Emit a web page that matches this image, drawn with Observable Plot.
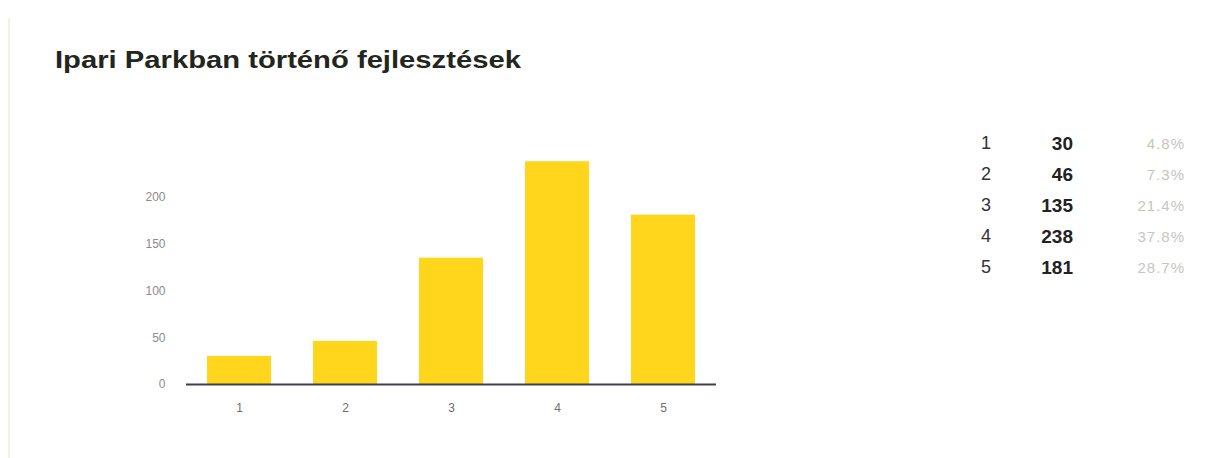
<!DOCTYPE html>
<html>
<head>
<meta charset="utf-8">
<script src="https://cdn.jsdelivr.net/npm/d3@7"></script>
<script src="https://cdn.jsdelivr.net/npm/@observablehq/plot@0.6"></script>
<style>
  html, body { margin: 0; padding: 0; background: #fff; }
  #wrap { position: relative; width: 1211px; height: 458px; overflow: hidden; font-family: "Liberation Sans", Arial, sans-serif; }
  #border { position: absolute; left: 8px; top: 18px; width: 2px; height: 440px; background: #f1f1e6; }
  #title { position: absolute; left: 55px; top: 47px; font-size: 23px; font-weight: bold; color: #23261d; transform: scaleX(1.27); transform-origin: left top; white-space: nowrap; }
  #chart { position: absolute; left: 0; top: 0; }
  #table { position: absolute; left: 975px; top: 128px; border-collapse: collapse; }
  #table td { padding: 0; height: 31px; }
  #table td.k { width: 30px; color: #333; text-align: left; padding-left: 6px; font-size: 18px; }
  #table td.v { width: 62px; text-align: right; font-weight: bold; color: #222; font-size: 19px; }
  #table td.p { width: 112px; text-align: right; color: #c6c6be; font-size: 15px; letter-spacing: 1px; }
</style>
</head>
<body>
<div id="wrap">
  <div id="border"></div>
  <div id="title"></div>
  <div id="chart"></div>
  <table id="table"></table>
</div>
<script>
const title = "Ipari Parkban történő fejlesztések";
const categories = ["1", "2", "3", "4", "5"];
const values = [30, 46, 135, 238, 181];
const percentLabels = ["4.8%", "7.3%", "21.4%", "37.8%", "28.7%"];
const yTicks = [0, 50, 100, 150, 200];

document.getElementById("title").textContent = title;

const data = categories.map((c, i) => ({cat: c, value: values[i]}));

const chart = Plot.plot({
  width: 1211,
  height: 458,
  marginLeft: 186,
  marginRight: 495,
  marginTop: 150,
  marginBottom: 74,
  style: {fontFamily: "'Liberation Sans', Arial, sans-serif", fontSize: "12px", background: "transparent"},
  x: {domain: categories, paddingInner: 0.4, paddingOuter: 0.2, label: null},
  y: {domain: [0, 250], label: null},
  marks: [
    Plot.barY(data, {x: "cat", y: "value", fill: "#FFD61C"}),
    Plot.axisY({ticks: yTicks, tickSize: 0, tickPadding: 21, color: "#8c8c8c", label: null}),
    Plot.axisX({tickSize: 0, tickPadding: 19, color: "#6e6e6e", label: null}),
    Plot.ruleY([0], {stroke: "#3b4050", strokeWidth: 2})
  ]
});
document.getElementById("chart").appendChild(chart);

const table = document.getElementById("table");
categories.forEach((c, i) => {
  const tr = document.createElement("tr");
  const a = document.createElement("td"); a.className = "k"; a.textContent = c;
  const b = document.createElement("td"); b.className = "v"; b.textContent = values[i];
  const p = document.createElement("td"); p.className = "p"; p.textContent = percentLabels[i];
  tr.append(a, b, p);
  table.appendChild(tr);
});
</script>
</body>
</html>
